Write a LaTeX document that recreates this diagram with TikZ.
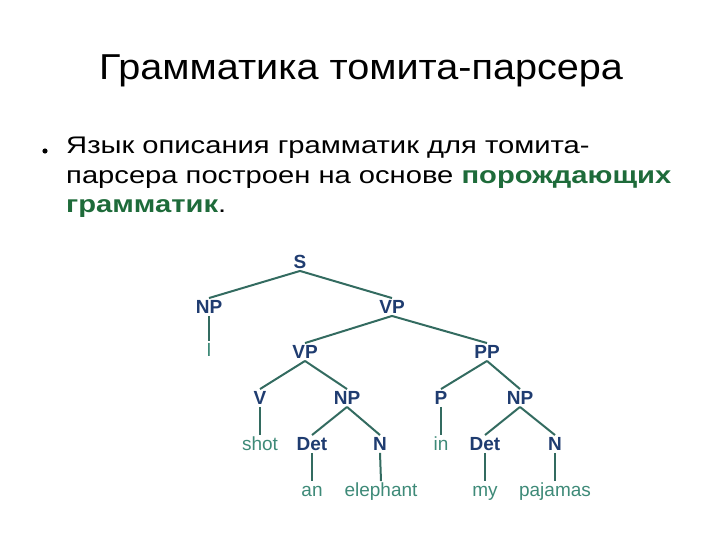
\documentclass[tikz,border=0pt]{standalone}
\usepackage{fontspec}
\setmainfont{Liberation Sans}
\begin{document}
\begin{tikzpicture}[x=1pt,y=-1pt,
  cat/.style={font=\bfseries\fontsize{19}{21}\selectfont, text=catc, inner sep=2pt, text height=13.5pt, text depth=0pt},
  word/.style={font=\fontsize{19}{21}\selectfont, text=wordc, inner sep=2pt, text height=13.5pt, text depth=0pt},
  edge/.style={draw=linec, line width=2pt}]
\definecolor{catc}{HTML}{1F3C70}
\definecolor{wordc}{HTML}{3E8A78}
\definecolor{linec}{HTML}{336B60}
\definecolor{grn}{HTML}{1E6B3A}
\useasboundingbox (0,0) rectangle (720,540);
\node[anchor=base, inner sep=0] (title) at (361,80)
  {\scalebox{1.1}[1]{\fontsize{36}{40}\selectfont Грамматика томита-парсера}};
\fill (45,151) circle (2.6pt) coordinate (bul);
\node[anchor=base west, inner sep=0] (l1) at (66,154)
  {\scalebox{1.215}[1]{\fontsize{24}{28}\selectfont Язык описания грамматик для томита-}};
\node[anchor=base west, inner sep=0] (l2) at (66,184)
  {\scalebox{1.215}[1]{\fontsize{24}{28}\selectfont парсера построен на основе \textcolor{grn}{\bfseries порождающих}}};
\node[anchor=base west, inner sep=0] (l3) at (66,213)
  {\scalebox{1.215}[1]{\fontsize{24}{28}\selectfont \textcolor{grn}{\bfseries грамматик}.}};
% tree
\node[cat] (S) at (300,262) {S};
\node[cat] (NP1) at (209,307) {NP};
\node[cat] (VP1) at (392,307) {VP};
\node[word] (I) at (209,350) {I};
\node[cat] (VP2) at (305,352) {VP};
\node[cat] (PP) at (487,352) {PP};
\node[cat] (V) at (260,398) {V};
\node[cat] (NP2) at (347,398) {NP};
\node[cat] (P) at (441,398) {P};
\node[cat] (NP3) at (520,398) {NP};
\node[word] (shot) at (260,444) {shot};
\node[cat] (Det1) at (312,444) {Det};
\node[cat] (N1) at (380,444) {N};
\node[word] (in) at (441,444) {in};
\node[cat] (Det2) at (485,444) {Det};
\node[cat] (N2) at (555,444) {N};
\node[word] (an) at (312,490) {an};
\node[word] (eleph) at (381,490) {elephant};
\node[word] (my) at (485,490) {my};
\node[word] (paj) at (555,490) {pajamas};
\foreach \a/\b in {S/NP1,S/VP1,NP1/I,VP1/VP2,VP1/PP,VP2/V,VP2/NP2,PP/P,PP/NP3,
  V/shot,NP2/Det1,NP2/N1,P/in,NP3/Det2,NP3/N2,Det1/an,N1/eleph,Det2/my,N2/paj}
  \draw[edge] (\a.south) -- (\b.north);
\end{tikzpicture}
\end{document}
